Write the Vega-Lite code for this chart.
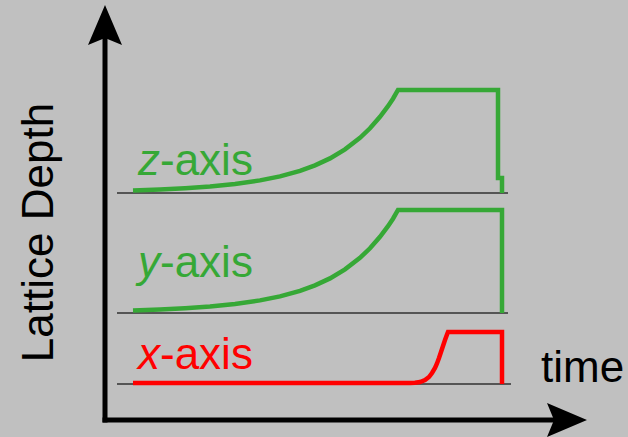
{
  "$schema": "https://vega.github.io/schema/vega-lite/v6.json",
  "width": 628,
  "height": 437,
  "autosize": {"type": "fit", "contains": "padding"},
  "padding": 0,
  "background": "#c0c0c0",
  "config": {
    "view": {"stroke": null},
    "text": {"font": "Liberation Sans", "fontSize": 44}
  },
  "datasets": {
    "axes": [
      {"axis": "depth", "t": 0, "d": 0, "t2": 0, "d2": 39.5},
      {"axis": "time", "t": 0, "d": 0, "t2": 11.55, "d2": 0}
    ],
    "arrowheads": [
      {"axis": "depth", "t": 0, "d": 39.5},
      {"axis": "time", "t": 11.55, "d": 0}
    ],
    "baselines": [
      {"trace": "z", "t": 0.3, "t2": 10.075, "d": 22.7},
      {"trace": "y", "t": 0.3, "t2": 10.075, "d": 10.7},
      {"trace": "x", "t": 0.3, "t2": 10.15, "d": 3.6}
    ],
    "traces": [
      {"trace": "z", "i": 1, "t": 0.7, "d": 22.96},
      {"trace": "z", "i": 2, "t": 1.375, "d": 23.06},
      {"trace": "z", "i": 3, "t": 2.0, "d": 23.18},
      {"trace": "z", "i": 4, "t": 2.625, "d": 23.35},
      {"trace": "z", "i": 5, "t": 3.25, "d": 23.6},
      {"trace": "z", "i": 6, "t": 3.875, "d": 23.96},
      {"trace": "z", "i": 7, "t": 4.375, "d": 24.36},
      {"trace": "z", "i": 8, "t": 4.875, "d": 24.92},
      {"trace": "z", "i": 9, "t": 5.25, "d": 25.47},
      {"trace": "z", "i": 10, "t": 5.625, "d": 26.16},
      {"trace": "z", "i": 11, "t": 6.0, "d": 27.06},
      {"trace": "z", "i": 12, "t": 6.375, "d": 28.22},
      {"trace": "z", "i": 13, "t": 6.625, "d": 29.17},
      {"trace": "z", "i": 14, "t": 6.875, "d": 30.32},
      {"trace": "z", "i": 15, "t": 7.075, "d": 31.38},
      {"trace": "z", "i": 16, "t": 7.2, "d": 32.13},
      {"trace": "z", "i": 17, "t": 7.325, "d": 33.0},
      {"trace": "z", "i": 18, "t": 9.825, "d": 33.0},
      {"trace": "z", "i": 19, "t": 9.825, "d": 24.2},
      {"trace": "z", "i": 20, "t": 9.925, "d": 24.2},
      {"trace": "z", "i": 21, "t": 9.925, "d": 22.7},
      {"trace": "y", "i": 1, "t": 0.7, "d": 10.96},
      {"trace": "y", "i": 2, "t": 1.375, "d": 11.06},
      {"trace": "y", "i": 3, "t": 2.0, "d": 11.18},
      {"trace": "y", "i": 4, "t": 2.625, "d": 11.35},
      {"trace": "y", "i": 5, "t": 3.25, "d": 11.6},
      {"trace": "y", "i": 6, "t": 3.875, "d": 11.96},
      {"trace": "y", "i": 7, "t": 4.375, "d": 12.36},
      {"trace": "y", "i": 8, "t": 4.875, "d": 12.92},
      {"trace": "y", "i": 9, "t": 5.25, "d": 13.47},
      {"trace": "y", "i": 10, "t": 5.625, "d": 14.16},
      {"trace": "y", "i": 11, "t": 6.0, "d": 15.06},
      {"trace": "y", "i": 12, "t": 6.375, "d": 16.22},
      {"trace": "y", "i": 13, "t": 6.625, "d": 17.17},
      {"trace": "y", "i": 14, "t": 6.875, "d": 18.32},
      {"trace": "y", "i": 15, "t": 7.075, "d": 19.38},
      {"trace": "y", "i": 16, "t": 7.2, "d": 20.13},
      {"trace": "y", "i": 17, "t": 7.325, "d": 21.0},
      {"trace": "y", "i": 18, "t": 9.925, "d": 21.0},
      {"trace": "y", "i": 19, "t": 9.925, "d": 10.7},
      {"trace": "x", "i": 1, "t": 0.7, "d": 3.7},
      {"trace": "x", "i": 2, "t": 7.625, "d": 3.7},
      {"trace": "x", "i": 3, "t": 7.75, "d": 3.73},
      {"trace": "x", "i": 4, "t": 7.875, "d": 3.8},
      {"trace": "x", "i": 5, "t": 8.0, "d": 4.0},
      {"trace": "x", "i": 6, "t": 8.1, "d": 4.3},
      {"trace": "x", "i": 7, "t": 8.175, "d": 4.7},
      {"trace": "x", "i": 8, "t": 8.25, "d": 5.2},
      {"trace": "x", "i": 9, "t": 8.3, "d": 5.65},
      {"trace": "x", "i": 10, "t": 8.35, "d": 6.2},
      {"trace": "x", "i": 11, "t": 8.4, "d": 6.8},
      {"trace": "x", "i": 12, "t": 8.45, "d": 7.4},
      {"trace": "x", "i": 13, "t": 8.5, "d": 8.0},
      {"trace": "x", "i": 14, "t": 8.55, "d": 8.55},
      {"trace": "x", "i": 15, "t": 8.575, "d": 8.8},
      {"trace": "x", "i": 16, "t": 9.925, "d": 8.8},
      {"trace": "x", "i": 17, "t": 9.925, "d": 3.6}
    ],
    "labels": [
      {"trace": "z", "letter": "z", "suffix": "-axis", "t": 0.825, "d": 24.5},
      {"trace": "y", "letter": "y", "suffix": "-axis", "t": 0.825, "d": 14.3},
      {"trace": "x", "letter": "x", "suffix": "-axis", "t": 0.825, "d": 5.1}
    ],
    "titles": [
      {"role": "time", "text": "time", "t": 10.9, "d": 3.8},
      {"role": "depth", "text": "Lattice Depth", "t": -1.3, "d": 18.75}
    ]
  },
  "encoding": {
    "x": {"field": "t", "type": "quantitative", "axis": null,
          "scale": {"domain": [-2.625, 13.075], "nice": false, "zero": false}},
    "y": {"field": "d", "type": "quantitative", "axis": null,
          "scale": {"domain": [-1.7, 42.0], "nice": false, "zero": false}}
  },
  "layer": [
    {
      "data": {"name": "axes"},
      "mark": {"type": "rule", "color": "#000000", "strokeWidth": 5, "strokeCap": "square"},
      "encoding": {"x2": {"field": "t2"}, "y2": {"field": "d2"}}
    },
    {
      "data": {"name": "arrowheads"},
      "transform": [{"filter": "datum.axis === 'depth'"}],
      "mark": {"type": "point", "shape": "M0,-1L0.85,1L0,0.65L-0.85,1Z", "filled": true,
               "color": "#000000", "opacity": 1, "size": 1600, "angle": 0, "strokeWidth": 0}
    },
    {
      "data": {"name": "arrowheads"},
      "transform": [{"filter": "datum.axis === 'time'"}],
      "mark": {"type": "point", "shape": "M0,-1L0.85,1L0,0.65L-0.85,1Z", "filled": true,
               "color": "#000000", "opacity": 1, "size": 1600, "angle": 90, "strokeWidth": 0}
    },
    {
      "data": {"name": "baselines"},
      "mark": {"type": "rule", "color": "#555555", "strokeWidth": 2},
      "encoding": {"x2": {"field": "t2"}}
    },
    {
      "data": {"name": "traces"},
      "mark": {"type": "line", "strokeWidth": 4.5, "strokeJoin": "miter", "strokeCap": "butt"},
      "encoding": {
        "color": {"field": "trace", "type": "nominal", "legend": null,
                  "scale": {"domain": ["x", "y", "z"], "range": ["#ff0000", "#36a836", "#36a836"]}},
        "order": {"field": "i", "type": "quantitative"}
      }
    },
    {
      "data": {"name": "labels"},
      "mark": {"type": "text", "align": "left", "baseline": "alphabetic", "fontStyle": "italic"},
      "encoding": {
        "text": {"field": "letter"},
        "color": {"field": "trace", "type": "nominal", "legend": null,
                  "scale": {"domain": ["x", "y", "z"], "range": ["#ff0000", "#36a836", "#36a836"]}}
      }
    },
    {
      "data": {"name": "labels"},
      "mark": {"type": "text", "align": "left", "baseline": "alphabetic", "dx": 22},
      "encoding": {
        "text": {"field": "suffix"},
        "color": {"field": "trace", "type": "nominal", "legend": null,
                  "scale": {"domain": ["x", "y", "z"], "range": ["#ff0000", "#36a836", "#36a836"]}}
      }
    },
    {
      "data": {"name": "titles"},
      "transform": [{"filter": "datum.role === 'time'"}],
      "mark": {"type": "text", "align": "left", "baseline": "alphabetic", "color": "#000000"},
      "encoding": {"text": {"field": "text"}}
    },
    {
      "data": {"name": "titles"},
      "transform": [{"filter": "datum.role === 'depth'"}],
      "mark": {"type": "text", "align": "center", "baseline": "alphabetic", "angle": 270, "color": "#000000"},
      "encoding": {"text": {"field": "text"}}
    }
  ]
}
